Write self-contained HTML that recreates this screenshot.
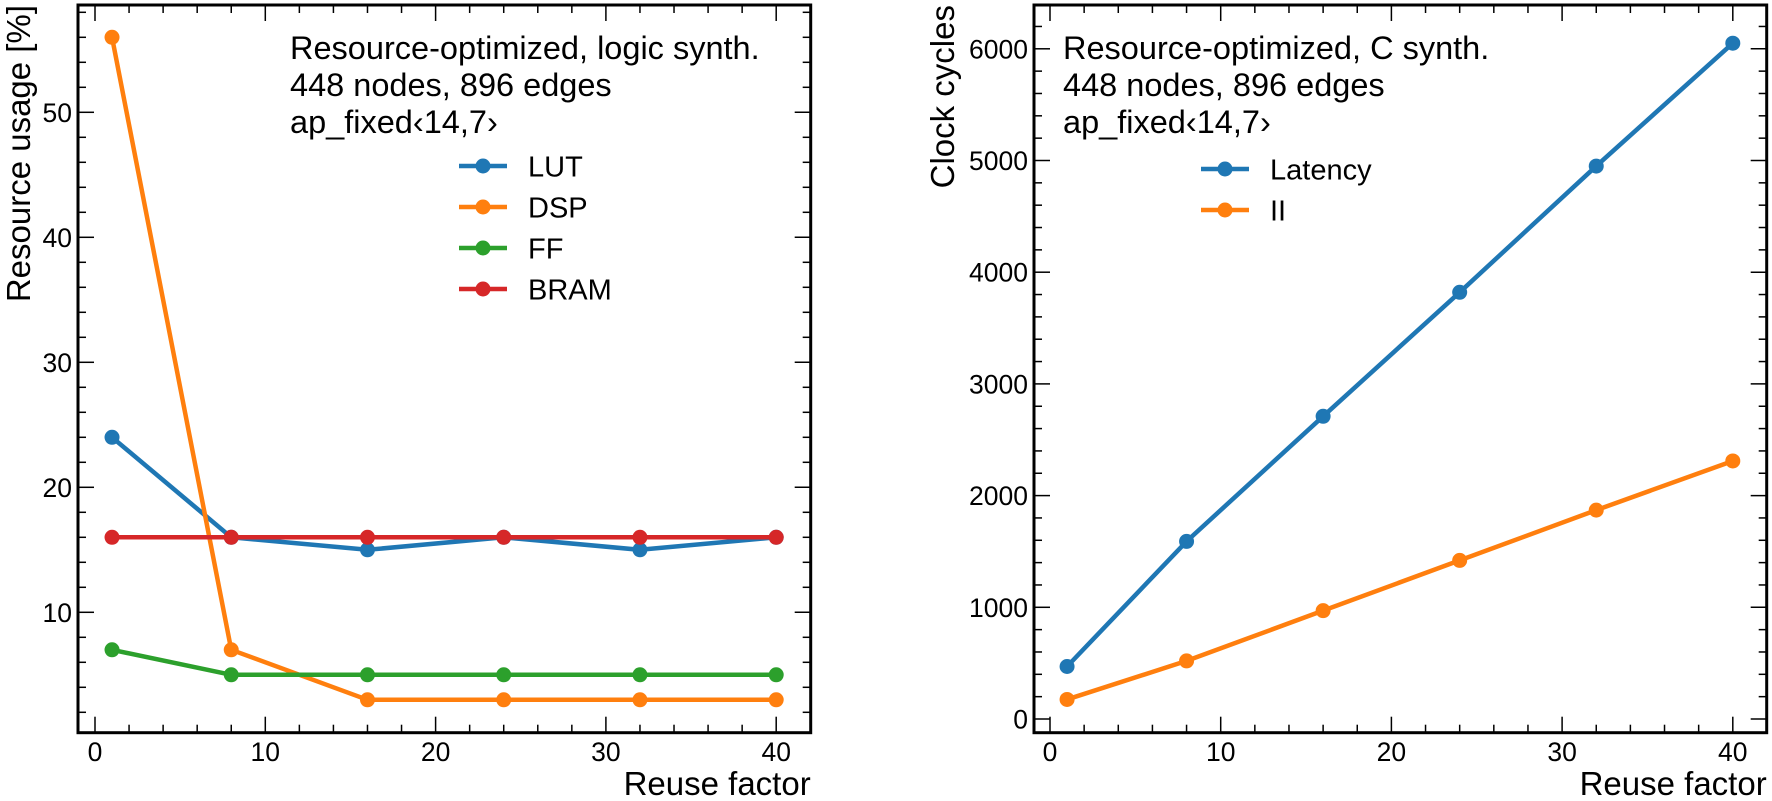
<!DOCTYPE html>
<html><head><meta charset="utf-8"><style>
html,body{margin:0;padding:0;background:#fff;}
svg{display:block;font-family:"Liberation Sans","DejaVu Sans",sans-serif;}
</style></head><body>
<svg id="chart" width="1772" height="801" viewBox="0 0 1772 801" xmlns="http://www.w3.org/2000/svg"></svg>
<script>
const reuseFactors = [1, 8, 16, 24, 32, 40];
const lutValues = [24, 16, 15, 16, 15, 16];
const dspValues = [56, 7, 3, 3, 3, 3];
const ffValues = [7, 5, 5, 5, 5, 5];
const bramValues = [16, 16, 16, 16, 16, 16];
const latencyValues = [470, 1590, 2710, 3820, 4950, 6050];
const iiValues = [175, 520, 970, 1420, 1870, 2310];
const leftYTicks = [10, 20, 30, 40, 50];
const rightYTicks = [0, 1000, 2000, 3000, 4000, 5000, 6000];
const xTicks = [0, 10, 20, 30, 40];

const NS = "http://www.w3.org/2000/svg";
const svg = document.getElementById('chart');
function mk(tag, attrs, parent) {
  const e = document.createElementNS(NS, tag);
  for (const k in attrs) e.setAttribute(k, attrs[k]);
  (parent || svg).appendChild(e);
  return e;
}
const C = {blue:'#1f77b4', orange:'#ff7f0e', green:'#2ca02c', red:'#d62728'};

function panel(cfg) {
  const g = mk('g', {});
  
  
  const X = v => cfg.x0 + (v - cfg.xmin) / (cfg.xmax - cfg.xmin) * (cfg.x1 - cfg.x0);
  const Y = v => cfg.y1 - (v - cfg.ymin) / (cfg.ymax - cfg.ymin) * (cfg.y1 - cfg.y0);
  const tg = mk('g', {stroke:'#000', 'stroke-width':1.5}, g);
  
  
  for (let v = Math.ceil(cfg.xmin / cfg.xminor) * cfg.xminor; v <= cfg.xmax; v += cfg.xminor) {
    const major = Math.abs(v % cfg.xmajor) < 1e-9;
    const L = major ? 16 : 8, x = X(v);
    mk('line', {x1:x, x2:x, y1:cfg.y1, y2:cfg.y1 - L}, tg);
    mk('line', {x1:x, x2:x, y1:cfg.y0, y2:cfg.y0 + L}, tg);
  }
  for (let v = Math.ceil(cfg.ymin / cfg.yminor) * cfg.yminor; v <= cfg.ymax; v += cfg.yminor) {
    const major = Math.abs(v % cfg.ymajor) < 1e-9;
    const L = major ? 16 : 8, y = Y(v);
    mk('line', {x1:cfg.x0, x2:cfg.x0 + L, y1:y, y2:y}, tg);
    mk('line', {x1:cfg.x1, x2:cfg.x1 - L, y1:y, y2:y}, tg);
  }
  xTicks.forEach(v => {
    const t = mk('text', {x:X(v), y:cfg.y1 + 28.5, 'font-size':26.5, 'text-anchor':'middle'}, g);
    
    
    t.textContent = v;
  });
  cfg.yticks.forEach(v => {
    const t = mk('text', {x:cfg.x0 - 6, y:Y(v) + 9.5, 'font-size':26.5, 'text-anchor':'end'}, g);
    
    
    t.textContent = v;
  });
  cfg.series.forEach(s => {
    const sg = mk('g', {}, g);
    
    
    const pts = reuseFactors.map((r, i) => X(r) + ',' + Y(s.data[i])).join(' ');
    const pl = mk('polyline', {points:pts, fill:'none', stroke:s.color, 'stroke-width':4.5, 'stroke-linejoin':'round'}, sg);
    
    
    reuseFactors.forEach((r, i) => {
      const c = mk('circle', {cx:X(r), cy:Y(s.data[i]), r:7.5, fill:s.color}, sg);
      
      
    });
  });
  const fr = mk('rect', {x:cfg.x0, y:cfg.y0, width:cfg.x1 - cfg.x0, height:cfg.y1 - cfg.y0, fill:'none', stroke:'#000', 'stroke-width':3}, g);
  
  
  cfg.notes.forEach((n, i) => {
    const t = mk('text', {x:cfg.x0 + cfg.noteDx, y:59 + i * 37, 'font-size':32.5}, g);
    
    
    t.textContent = n;
  });
  cfg.series.forEach((s, i) => {
    const lg = mk('g', {}, g);
    
    
    const y = cfg.legY + i * cfg.legStep, x = cfg.legX;
    mk('line', {x1:x, x2:x + 48, y1:y, y2:y, stroke:s.color, 'stroke-width':4.5}, lg);
    mk('circle', {cx:x + 24, cy:y, r:7.5, fill:s.color}, lg);
    const t = mk('text', {x:x + 69, y:y + 10.5, 'font-size':29}, lg);
    t.textContent = s.label;
  });
  const xl = mk('text', {x:cfg.x1, y:795, 'font-size':33, 'text-anchor':'end'}, g);
  
  
  xl.textContent = 'Reuse factor';
  const yl = mk('text', {x:0, y:0, 'font-size':33, 'text-anchor':'end', transform:'translate(' + cfg.ylabX + ',' + cfg.y0 + ') rotate(-90)'}, g);
  
  
  yl.textContent = cfg.ylabel;
}

panel({name:'resource-usage-panel', x0:78, x1:810.7, y0:5, y1:732.7,
  xmin:(78 - 95) / 17.03, xmax:(810.7 - 95) / 17.03,
  ymin:(737.3 - 732.7) / 12.5, ymax:(737.3 - 5) / 12.5,
  xmajor:10, xminor:2, ymajor:10, yminor:2, yticks:leftYTicks,
  series:[{label:'LUT', data:lutValues, color:C.blue},{label:'DSP', data:dspValues, color:C.orange},
          {label:'FF', data:ffValues, color:C.green},{label:'BRAM', data:bramValues, color:C.red}],
  notes:['Resource-optimized, logic synth.', '448 nodes, 896 edges', 'ap_fixed\u203914,7\u203A'],
  noteDx:212, legX:459, legY:166, legStep:41, ylabX:30, ylabel:'Resource usage [%]'});

panel({name:'clock-cycles-panel', x0:1034, x1:1766.7, y0:5, y1:732.7,
  xmin:(1034 - 1050) / 17.07, xmax:(1766.7 - 1050) / 17.07,
  ymin:-(732.7 - 719) / 0.1117, ymax:(719 - 5) / 0.1117,
  xmajor:10, xminor:2, ymajor:1000, yminor:200, yticks:rightYTicks,
  series:[{label:'Latency', data:latencyValues, color:C.blue},{label:'II', data:iiValues, color:C.orange}],
  notes:['Resource-optimized, C synth.', '448 nodes, 896 edges', 'ap_fixed\u203914,7\u203A'],
  noteDx:29, legX:1201, legY:169, legStep:41, ylabX:954, ylabel:'Clock cycles'});
</script>
</body></html>
